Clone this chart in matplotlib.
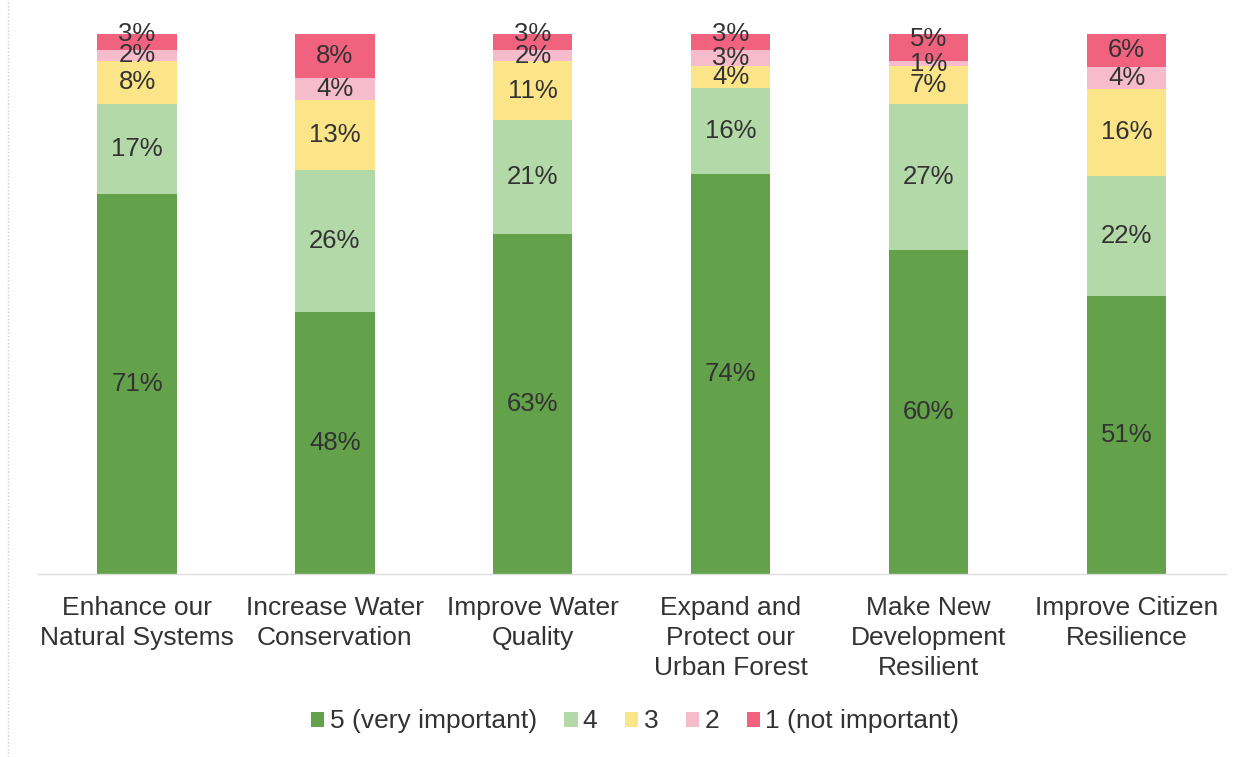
import matplotlib
matplotlib.use("Agg")
import matplotlib.pyplot as plt
import numpy as np

plt.rcParams['font.family'] = ['Liberation Sans', 'DejaVu Sans']

categories = [
    "Enhance our\nNatural Systems",
    "Increase Water\nConservation",
    "Improve Water\nQuality",
    "Expand and\nProtect our\nUrban Forest",
    "Make New\nDevelopment\nResilient",
    "Improve Citizen\nResilience",
]
series_names = ["5 (very important)", "4", "3", "2", "1 (not important)"]
very_important = [71, 48, 63, 74, 60, 51]
rating_4 = [17, 26, 21, 16, 27, 22]
rating_3 = [8, 13, 11, 4, 7, 16]
rating_2 = [2, 4, 2, 3, 1, 4]
not_important = [3, 8, 3, 3, 5, 6]

colors = ["#63a14b", "#b3d9a9", "#fbe588", "#f7bccb", "#f1627f"]
text_color = "#333333"

fig = plt.figure(figsize=(12.48, 7.57), dpi=100)
ax = fig.add_axes([0.0305, 0.2417, 0.9515, 0.7133])

series = [very_important, rating_4, rating_3, rating_2, not_important]
data = np.array(series, dtype=float)
totals = data.sum(axis=0)  # 100% stacked: each column scaled to its total

x = np.arange(len(categories))
bottom = np.zeros(len(categories))
n_series = len(series)
for k, (name, vals, col) in enumerate(zip(series_names, data, colors)):
    share = vals / totals * 100
    ax.bar(x, share, 0.4, bottom=bottom, color=col, label=name,
           edgecolor='none')
    for xi, b, s, v in zip(x, bottom, share, vals):
        # thin top segments: lift the label a little so it clears the one below
        dy = 6 if (k == n_series - 1 and s < 5.8) else 0
        ax.annotate(f"{int(v)}%", (xi, b + s / 2), xytext=(0, dy),
                    textcoords='offset points', ha='center', va='center',
                    fontsize=18.5, color=text_color, annotation_clip=False)
    bottom += share

ax.set_xlim(-0.5, len(categories) - 0.5)
ax.set_ylim(0, 100)
ax.set_yticks([])
ax.set_xticks(x)
ax.set_xticklabels(categories, fontsize=19, color=text_color,
                   linespacing=1.3)
ax.tick_params(axis='x', length=0, pad=16)
for s in ['top', 'right', 'left']:
    ax.spines[s].set_visible(False)
ax.spines['bottom'].set_color('#dddddd')
ax.spines['bottom'].set_linewidth(1.0)

# outer chart frame on the left edge
fig.add_artist(plt.Line2D([0.0068, 0.0068], [0.0, 1.0], color='#cfcfcf',
                          linestyle=(0, (1, 1.5)), linewidth=1.0))

leg = fig.legend(loc='center', bbox_to_anchor=(0.509, 0.047), ncol=5,
                 frameon=False, fontsize=19, handlelength=0.5,
                 handleheight=0.5, handletextpad=0.2, columnspacing=1.05)
for t in leg.get_texts():
    t.set_color(text_color)

fig.savefig("out.png", dpi=100, facecolor='white')
